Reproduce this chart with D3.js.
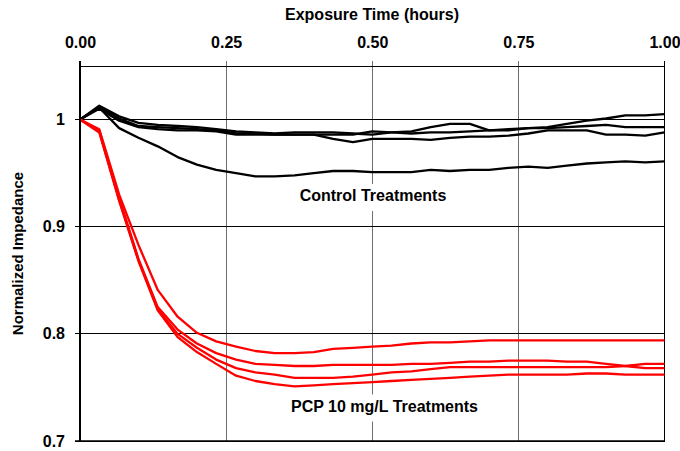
<!DOCTYPE html>
<html><head><meta charset="utf-8">
<script src="https://cdn.jsdelivr.net/npm/d3@7/dist/d3.min.js"></script>
<style>body{margin:0;background:#fff}svg{display:block}</style>
</head><body>
<svg id="chart" width="680" height="451"></svg>
<script>
// ---- data ----
const hours = [0,0.033,0.067,0.1,0.133,0.167,0.2,0.233,0.267,0.3,0.333,0.367,0.4,0.433,0.467,0.5,0.533,0.567,0.6,0.633,0.667,0.7,0.733,0.767,0.8,0.833,0.867,0.9,0.933,0.967,1.0];

const control1 = [1.000,1.013,1.003,0.997,0.995,0.994,0.993,0.991,0.989,0.988,0.987,0.988,0.988,0.988,0.987,0.986,0.988,0.989,0.993,0.996,0.996,0.990,0.991,0.992,0.993,0.996,0.999,1.001,1.004,1.004,1.005];
const control2 = [1.000,1.012,1.001,0.994,0.993,0.992,0.991,0.990,0.987,0.987,0.986,0.986,0.986,0.986,0.986,0.989,0.988,0.987,0.988,0.988,0.989,0.990,0.990,0.992,0.992,0.993,0.994,0.995,0.993,0.993,0.993];
const control3 = [1.000,1.010,0.999,0.993,0.991,0.990,0.990,0.989,0.986,0.986,0.986,0.986,0.986,0.982,0.979,0.982,0.982,0.982,0.981,0.983,0.984,0.984,0.985,0.987,0.990,0.990,0.990,0.986,0.986,0.985,0.988];
const control4 = [1.000,1.011,0.992,0.983,0.975,0.965,0.958,0.953,0.950,0.947,0.947,0.948,0.950,0.952,0.952,0.951,0.951,0.951,0.953,0.952,0.953,0.953,0.955,0.956,0.955,0.957,0.959,0.960,0.961,0.960,0.961];

const pcp1 = [1.000,0.991,0.930,0.883,0.841,0.816,0.801,0.793,0.788,0.784,0.782,0.782,0.783,0.786,0.787,0.788,0.789,0.791,0.792,0.792,0.793,0.794,0.794,0.794,0.794,0.794,0.794,0.794,0.794,0.794,0.794];
const pcp2 = [1.000,0.990,0.927,0.870,0.825,0.804,0.791,0.782,0.776,0.772,0.771,0.770,0.770,0.771,0.771,0.771,0.771,0.772,0.772,0.773,0.774,0.774,0.775,0.775,0.775,0.774,0.774,0.772,0.770,0.768,0.768];
const pcp3 = [1.000,0.989,0.925,0.869,0.823,0.800,0.787,0.776,0.768,0.764,0.762,0.759,0.759,0.759,0.760,0.762,0.764,0.765,0.767,0.769,0.769,0.769,0.769,0.769,0.769,0.769,0.769,0.769,0.770,0.772,0.772];
const pcp4 = [1.000,0.988,0.924,0.868,0.822,0.797,0.783,0.772,0.761,0.756,0.753,0.751,0.752,0.753,0.754,0.755,0.756,0.757,0.758,0.759,0.760,0.761,0.762,0.762,0.762,0.762,0.763,0.763,0.762,0.762,0.762];

const xTicks = [0, 0.25, 0.5, 0.75, 1.0];
const yTicks = [0.7, 0.8, 0.9, 1.0];
const yTickLabels = ["0.7", "0.8", "0.9", "1"];

const xTitle = "Exposure Time (hours)";
const yTitle = "Normalized Impedance";
const controlLabel = "Control Treatments";
const pcpLabel = "PCP 10 mg/L Treatments";

// ---- layout ----
const W = 680, H = 451;
const m = {left: 80, right: 15.5, top: 66, bottom: 10};
const svg = d3.select("#chart");
const font = "'Liberation Sans', Arial, Helvetica, sans-serif";

const x = d3.scaleLinear().domain([0, 1]).range([m.left, W - m.right]);
const y = d3.scaleLinear().domain([0.7, 1.05]).range([H - m.bottom, m.top]);

const x0 = x(0), x1 = x(1), yT = y(1.05), yB = y(0.7);

// vertical gridlines (gray) incl. top ticks
svg.append("g").selectAll("line").data(xTicks.slice(1, -1)).join("line")
  .attr("x1", d => x(d)).attr("x2", d => x(d))
  .attr("y1", yT - 5).attr("y2", yB)
  .attr("stroke", "#6e6e6e").attr("stroke-width", 1).attr("shape-rendering", "crispEdges");

// horizontal gridlines (black) incl. left ticks
svg.append("g").selectAll("line").data(yTicks).join("line")
  .attr("x1", x0 - 5).attr("x2", x1)
  .attr("y1", d => y(d)).attr("y2", d => y(d))
  .attr("stroke", "#000").attr("stroke-width", 1).attr("shape-rendering", "crispEdges");

// top axis (labels)
const xAxis = d3.axisTop(x).tickValues(xTicks).tickFormat(d3.format(".2f")).tickSize(0).tickPadding(18);
const gx = svg.append("g").attr("transform", `translate(0,${yT})`).call(xAxis);
gx.select(".domain").remove();
gx.selectAll("text").attr("font-family", font).attr("font-size", 16).attr("font-weight", "bold").attr("fill", "#000");

// left axis (labels)
const yAxis = d3.axisLeft(y).tickValues(yTicks).tickFormat((d, i) => yTickLabels[i]).tickSize(0).tickPadding(15);
const gy = svg.append("g").attr("transform", `translate(${x0},0)`).call(yAxis);
gy.select(".domain").remove();
gy.selectAll("text").attr("font-family", font).attr("font-size", 16).attr("font-weight", "bold").attr("fill", "#000");

// border
svg.append("line").attr("x1", x0).attr("x2", x1).attr("y1", yT).attr("y2", yT)
  .attr("stroke", "#000").attr("stroke-width", 1).attr("shape-rendering", "crispEdges");
svg.append("line").attr("x1", x1).attr("x2", x1).attr("y1", yT - 5).attr("y2", yB)
  .attr("stroke", "#000").attr("stroke-width", 1).attr("shape-rendering", "crispEdges");
svg.append("line").attr("x1", x0 - 5).attr("x2", x1).attr("y1", yB).attr("y2", yB)
  .attr("stroke", "#000").attr("stroke-width", 1.5);

// series lines
const line = d3.line().x((d, i) => x(hours[i])).y(d => y(d));
const controls = [control1, control2, control3, control4];
const pcps = [pcp1, pcp2, pcp3, pcp4];

svg.append("g").selectAll("path").data(controls).join("path")
  .attr("d", line).attr("fill", "none").attr("stroke", "#000")
  .attr("stroke-width", 2.3).attr("stroke-linejoin", "round");
svg.append("g").selectAll("path").data(pcps).join("path")
  .attr("d", line).attr("fill", "none").attr("stroke", "#ff0000")
  .attr("stroke-width", 2.3).attr("stroke-linejoin", "round");

// left axis line
svg.append("line").attr("x1", x0).attr("x2", x0).attr("y1", yT - 5).attr("y2", yB)
  .attr("stroke", "#000").attr("stroke-width", 2);

// annotation labels with white boxes
function label(txt, cx, baseline) {
  const g = svg.append("g");
  const t = g.append("text").attr("x", cx).attr("y", baseline)
    .attr("text-anchor", "middle").attr("font-family", font)
    .attr("font-size", 16).attr("font-weight", "bold").attr("fill", "#000").text(txt);
  const bb = t.node().getBBox();
  g.insert("rect", "text").attr("x", bb.x - 4).attr("y", baseline - 17)
    .attr("width", bb.width + 8).attr("height", 27).attr("fill", "#fff");
}
label(controlLabel, 373, 201);
label(pcpLabel, 384.5, 411.5);

// axis titles
svg.append("text").attr("x", 372).attr("y", 20).attr("text-anchor", "middle")
  .attr("font-family", font).attr("font-size", 16).attr("font-weight", "bold").text(xTitle);
svg.append("text").attr("transform", `translate(23,${(yT + yB) / 2}) rotate(-90)`)
  .attr("text-anchor", "middle").attr("font-family", font).attr("font-size", 15)
  .attr("font-weight", "bold").text(yTitle);
</script>
</body></html>
